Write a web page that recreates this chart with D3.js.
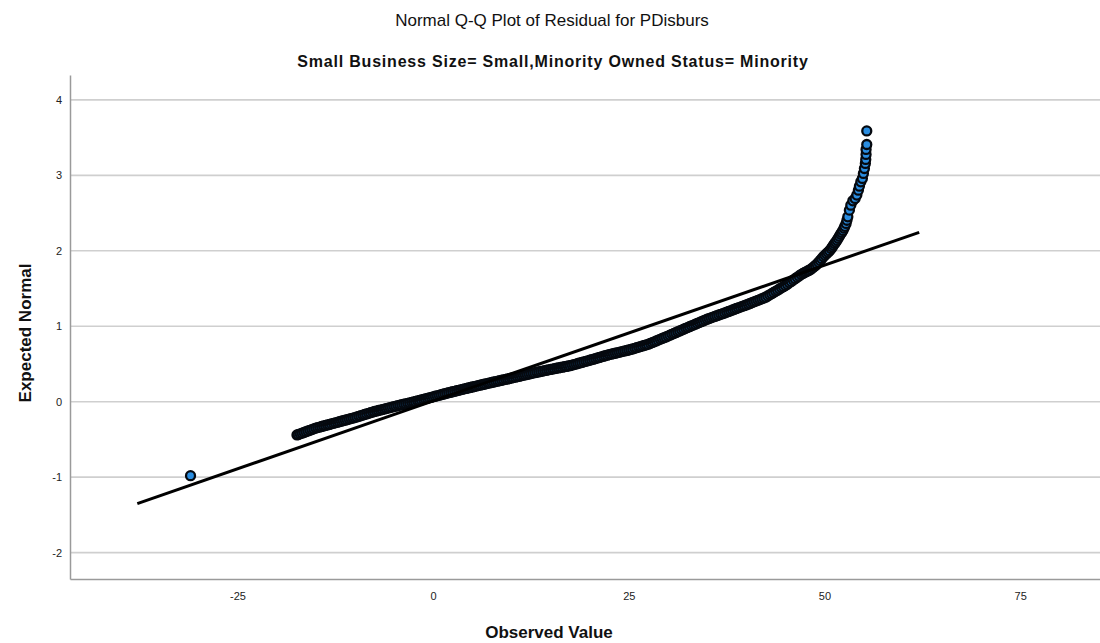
<!DOCTYPE html>
<html>
<head>
<meta charset="utf-8">
<script src="https://cdn.jsdelivr.net/npm/d3@7"></script>
<style>
  html, body { margin: 0; padding: 0; background: #fff; }
  svg { display: block; font-family: "Liberation Sans", Arial, sans-serif; }
</style>
</head>
<body>
<svg id="chart" width="1100" height="643"></svg>
<script>
// Residuals (observed) and their expected normal scores, sorted by rank.
const observed = [
  -31.0,
  -17.4, -17.25, -17, -16.75, -16.5, -16.25, -16, -15.75, -15.5, -15.25,
  -15, -14.75, -14.5, -14.25, -14, -13.75, -13.5, -13.25, -13, -12.75,
  -12.5, -12.25, -12, -11.75, -11.5, -11.25, -11, -10.75, -10.5, -10.25,
  -10, -9.75, -9.5, -9.25, -9, -8.75, -8.5, -8.25, -8, -7.75,
  -7.5, -7.25, -7, -6.75, -6.5, -6.25, -6, -5.75, -5.5, -5.25,
  -5, -4.75, -4.5, -4.25, -4, -3.75, -3.5, -3.25, -3, -2.75,
  -2.5, -2.25, -2, -1.75, -1.5, -1.25, -1, -0.75, -0.5, -0.25,
  0, 0.25, 0.5, 0.75, 1, 1.25, 1.5, 1.75, 2, 2.25,
  2.5, 2.75, 3, 3.25, 3.5, 3.75, 4, 4.25, 4.5, 4.75,
  5, 5.25, 5.5, 5.75, 6, 6.25, 6.5, 6.75, 7, 7.25,
  7.5, 7.75, 8, 8.25, 8.5, 8.75, 9, 9.25, 9.5, 9.75,
  10, 10.25, 10.5, 10.75, 11, 11.25, 11.5, 11.75, 12, 12.25,
  12.5, 12.75, 13, 13.25, 13.5, 13.75, 14, 14.25, 14.5, 14.75,
  15, 15.25, 15.5, 15.75, 16, 16.25, 16.5, 16.75, 17, 17.25,
  17.5, 17.75, 18, 18.25, 18.5, 18.75, 19, 19.25, 19.5, 19.75,
  20, 20.25, 20.5, 20.75, 21, 21.25, 21.5, 21.75, 22, 22.25,
  22.5, 22.75, 23, 23.25, 23.5, 23.75, 24, 24.25, 24.5, 24.75,
  25, 25.25, 25.5, 25.75, 26, 26.25, 26.5, 26.75, 27, 27.25,
  27.5, 27.75, 28, 28.25, 28.5, 28.75, 29, 29.25, 29.5, 29.75,
  30, 30.25, 30.5, 30.75, 31, 31.25, 31.5, 31.75, 32, 32.25,
  32.5, 32.75, 33, 33.25, 33.5, 33.75, 34, 34.25, 34.5, 34.75,
  35, 35.25, 35.5, 35.75, 36, 36.25, 36.5, 36.75, 37, 37.25,
  37.5, 37.75, 38, 38.25, 38.5, 38.75, 39, 39.25, 39.5, 39.75,
  40, 40.25, 40.5, 40.75, 41, 41.25, 41.5, 41.75, 42, 42.25,
  42.5, 42.75, 43, 43.25, 43.5, 43.75, 44, 44.25, 44.5, 44.75,
  45, 45.25, 45.5, 45.75, 46, 46.25, 46.5, 46.75, 47, 47.25,
  47.45, 47.65, 47.85, 48.05, 48.25, 48.45, 48.65, 48.85, 49.05, 49.25,
  49.45, 49.65, 49.85, 50.05, 50.25, 50.45, 50.65, 50.85, 51.0, 51.15,
  51.3, 51.45, 51.6, 51.75, 51.9, 52.05, 52.2, 52.35, 52.5, 52.6,
  52.76, 52.87, 52.98, 53.18, 53.36, 53.62, 53.91, 54.13, 54.33, 54.46,
  54.64, 54.84, 54.97, 55.10, 55.22, 55.27, 55.31, 55.31, 55.40, 55.40
];
const expected = [
  -0.98,
  -0.441, -0.436, -0.426, -0.417, -0.407, -0.398, -0.388, -0.379, -0.369, -0.360,
  -0.350, -0.343, -0.336, -0.329, -0.322, -0.315, -0.308, -0.301, -0.294, -0.287,
  -0.280, -0.273, -0.266, -0.259, -0.252, -0.245, -0.238, -0.231, -0.224, -0.217,
  -0.210, -0.202, -0.194, -0.186, -0.178, -0.170, -0.162, -0.154, -0.146, -0.138,
  -0.130, -0.124, -0.117, -0.111, -0.104, -0.098, -0.091, -0.085, -0.078, -0.072,
  -0.065, -0.059, -0.052, -0.046, -0.040, -0.034, -0.028, -0.021, -0.015, -0.009,
  -0.003, 0.004, 0.011, 0.017, 0.024, 0.031, 0.038, 0.045, 0.051, 0.058,
  0.065, 0.072, 0.078, 0.085, 0.092, 0.099, 0.105, 0.112, 0.119, 0.125,
  0.132, 0.138, 0.145, 0.151, 0.157, 0.164, 0.170, 0.176, 0.182, 0.189,
  0.195, 0.201, 0.207, 0.213, 0.219, 0.225, 0.231, 0.237, 0.243, 0.249,
  0.255, 0.261, 0.267, 0.272, 0.278, 0.284, 0.290, 0.296, 0.301, 0.307,
  0.313, 0.319, 0.325, 0.331, 0.337, 0.343, 0.349, 0.355, 0.361, 0.367,
  0.373, 0.379, 0.384, 0.390, 0.395, 0.401, 0.406, 0.412, 0.417, 0.423,
  0.428, 0.433, 0.438, 0.443, 0.448, 0.453, 0.458, 0.463, 0.468, 0.473,
  0.478, 0.485, 0.492, 0.499, 0.506, 0.514, 0.521, 0.528, 0.535, 0.542,
  0.549, 0.557, 0.564, 0.572, 0.579, 0.587, 0.594, 0.602, 0.609, 0.617,
  0.624, 0.630, 0.636, 0.642, 0.648, 0.654, 0.661, 0.667, 0.673, 0.679,
  0.685, 0.693, 0.700, 0.708, 0.716, 0.724, 0.731, 0.739, 0.747, 0.754,
  0.762, 0.773, 0.784, 0.794, 0.805, 0.816, 0.827, 0.838, 0.848, 0.859,
  0.870, 0.881, 0.893, 0.904, 0.915, 0.927, 0.938, 0.949, 0.960, 0.972,
  0.983, 0.994, 1.005, 1.016, 1.027, 1.038, 1.049, 1.060, 1.071, 1.082,
  1.093, 1.102, 1.112, 1.121, 1.130, 1.140, 1.149, 1.158, 1.167, 1.177,
  1.186, 1.196, 1.205, 1.215, 1.225, 1.235, 1.244, 1.254, 1.264, 1.273,
  1.283, 1.293, 1.303, 1.314, 1.324, 1.334, 1.344, 1.354, 1.365, 1.375,
  1.385, 1.401, 1.416, 1.432, 1.447, 1.463, 1.478, 1.494, 1.509, 1.525,
  1.540, 1.558, 1.576, 1.594, 1.612, 1.631, 1.649, 1.667, 1.685, 1.700,
  1.711, 1.721, 1.732, 1.742, 1.754, 1.771, 1.789, 1.806, 1.824, 1.847,
  1.872, 1.896, 1.920, 1.940, 1.961, 1.982, 2.002, 2.028, 2.050, 2.073,
  2.096, 2.118, 2.140, 2.166, 2.192, 2.218, 2.244, 2.270, 2.300, 2.325,
  2.363, 2.405, 2.450, 2.539, 2.605, 2.662, 2.694, 2.738, 2.804, 2.857,
  2.914, 2.959, 3.025, 3.091, 3.158, 3.211, 3.277, 3.343, 3.409, 3.589
];

// Reference (normal) line end points
const lineObserved = [-37.8, 62.1];
const lineExpected = [-1.35, 2.245];

// Axes
const xTicks = [-25, 0, 25, 50, 75];
const yTicks = [-2, -1, 0, 1, 2, 3, 4];
const xDomain = [-46.4, 85.2];
const yDomain = [-2.35, 4.33];

const titleText = "Normal Q-Q Plot of Residual for PDisburs";
const subtitleText = "Small Business Size= Small,Minority Owned Status= Minority";
const xLabel = "Observed Value";
const yLabel = "Expected Normal";

const svg = d3.select("#chart");
const plot = { left: 70, right: 1100, top: 75, bottom: 579 };

const x = d3.scaleLinear().domain(xDomain).range([plot.left, plot.right]);
const y = d3.scaleLinear().domain(yDomain).range([plot.bottom, plot.top]);

// Plain hyphen-minus for negative tick labels
const tickFmt = d => String(d);

// Horizontal gridlines
svg.append("g")
  .selectAll("line")
  .data(yTicks)
  .join("line")
  .attr("x1", plot.left).attr("x2", plot.right)
  .attr("y1", d => y(d)).attr("y2", d => y(d))
  .attr("stroke", "#cfcfcf")
  .attr("stroke-width", 1.6);

// Y axis
const yAxis = svg.append("g")
  .attr("transform", `translate(${plot.left},0)`)
  .call(d3.axisLeft(y).tickValues(yTicks).tickSize(0).tickPadding(8).tickFormat(tickFmt));
yAxis.select(".domain").attr("stroke", "#9a9a9a").attr("stroke-width", 1.5);
yAxis.selectAll("text").attr("font-size", 11).attr("fill", "#222")
  .attr("font-family", "Liberation Sans, Arial, sans-serif");

// X axis
const xAxis = svg.append("g")
  .attr("transform", `translate(0,${plot.bottom})`)
  .call(d3.axisBottom(x).tickValues(xTicks).tickSize(0).tickPadding(13).tickFormat(tickFmt));
xAxis.select(".domain").attr("stroke", "#9a9a9a").attr("stroke-width", 1.5);
xAxis.selectAll("text").attr("font-size", 11).attr("fill", "#222")
  .attr("font-family", "Liberation Sans, Arial, sans-serif");

// Points
const pts = observed.map((v, i) => ({ obs: v, exp: expected[i] }));
svg.append("g")
  .selectAll("circle")
  .data(pts)
  .join("circle")
  .attr("cx", d => x(d.obs))
  .attr("cy", d => y(d.exp))
  .attr("r", 4.5)
  .attr("fill", "#2a8de0")
  .attr("stroke", "#05090f")
  .attr("stroke-width", 2.3);

// Reference line
svg.append("line")
  .attr("x1", x(lineObserved[0])).attr("y1", y(lineExpected[0]))
  .attr("x2", x(lineObserved[1])).attr("y2", y(lineExpected[1]))
  .attr("stroke", "#000")
  .attr("stroke-width", 3);

// Titles
svg.append("text")
  .attr("x", 552).attr("y", 26)
  .attr("text-anchor", "middle")
  .attr("font-size", 17)
  .attr("fill", "#111")
  .text(titleText);

svg.append("text")
  .attr("x", 553).attr("y", 67)
  .attr("text-anchor", "middle")
  .attr("font-size", 16)
  .attr("font-weight", "bold")
  .attr("letter-spacing", 0.8)
  .attr("fill", "#111")
  .text(subtitleText);

// Axis titles
svg.append("text")
  .attr("x", 549).attr("y", 638)
  .attr("text-anchor", "middle")
  .attr("font-size", 17)
  .attr("font-weight", "bold")
  .attr("fill", "#111")
  .text(xLabel);

svg.append("text")
  .attr("transform", "translate(31,333) rotate(-90)")
  .attr("text-anchor", "middle")
  .attr("font-size", 17)
  .attr("font-weight", "bold")
  .attr("fill", "#111")
  .text(yLabel);
</script>
</body>
</html>
